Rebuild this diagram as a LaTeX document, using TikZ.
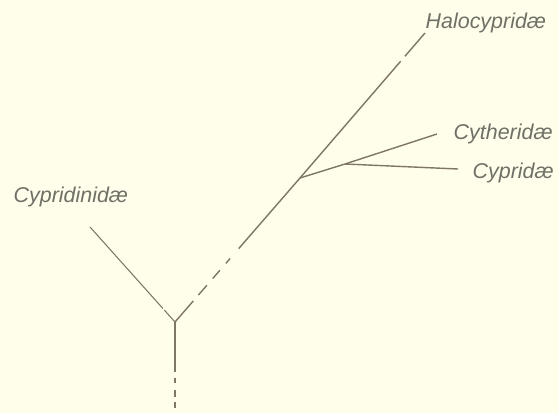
\documentclass[tikz,border=0pt]{standalone}
\usepackage{fontspec}
\setmainfont{Liberation Sans}
\definecolor{paper}{RGB}{255,254,234}
\definecolor{ink}{RGB}{126,118,102}
\definecolor{letter}{RGB}{112,112,102}

\begin{document}
\begin{tikzpicture}[x=0.02cm,y=-0.02cm,line width=.8pt,
  font=\fontsize{12.2}{14}\selectfont\itshape,
  branch/.style={draw=ink},
  family/.style={anchor=base west,inner sep=0pt,text=letter}]
\fill[paper] (0,0) rectangle (559,413);
\useasboundingbox (0,0) rectangle (559,413);
% branch points and free ends
\coordinate (root) at (175,322);
\coordinate (base) at (175,408);
\coordinate (leftend) at (90,227);
\coordinate (fork) at (300,178);
\coordinate (topend) at (425,33);
\coordinate (split) at (345,164);
\coordinate (cythend) at (437,134);
\coordinate (cyprend) at (458,169);
% family names
\node[family] (halo) at (425,28) {Halocypridæ};
\node[family] (cyth) at (453,139) {Cytheridæ};
\node[family] (cypr) at (472,178) {Cypridæ};
\node[family] (cypn) at (13,202) {Cypridinidæ};
% stem and branches
\draw[branch,dash pattern=on 28.35pt off 3.4pt on 2.83pt off 3.97pt on 3.97pt off 2.83pt on 3.4pt off 5pt] (root) -- (base);
\draw[branch,line width=.6pt,dash pattern=on 9.1pt off 1.2pt on 80pt] (root) -- (leftend);
\draw[branch,dash pattern=on 15.9pt off 4.4pt on 7.4pt off 5.1pt on 6.2pt off 5.1pt on 3.8pt off 7.4pt on 141pt off 3.7pt on 20pt] (root) -- (fork) -- (topend);
\draw[branch] (fork) -- (split) -- (cythend);
\draw[branch] (split) -- (cyprend);
\end{tikzpicture}
\end{document}
